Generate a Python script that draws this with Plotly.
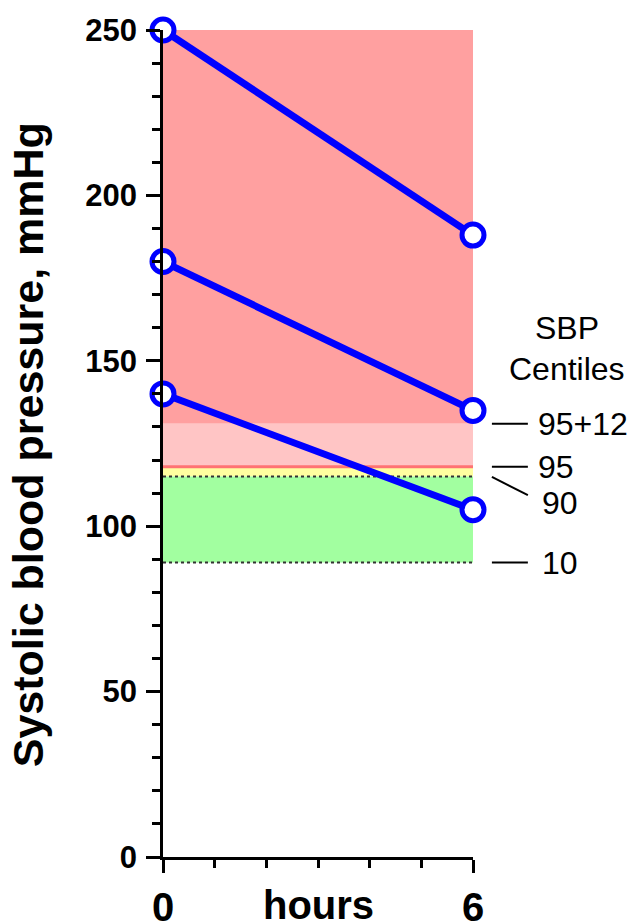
import plotly.graph_objects as go

# ---- data ----
hours = [0, 6]
patient_a = [250, 188]
patient_b = [180, 135]
patient_c = [140, 105]

band_top = 250
centile_95_plus_12 = 131
centile_95 = 118
centile_90 = 115
centile_10 = 89

centile_labels = ["95+12", "95", "90", "10"]
x_tick_vals = [0, 6]
y_tick_vals = [0, 50, 100, 150, 200, 250]

FONT = "Liberation Sans, Arial, sans-serif"
BLUE = "#0000ff"

fig = go.Figure()

for series in (patient_a, patient_b, patient_c):
    fig.add_trace(go.Scatter(
        x=hours, y=series, mode="lines+markers",
        line=dict(color=BLUE, width=7),
        marker=dict(size=22, color="white", line=dict(color=BLUE, width=5)),
        cliponaxis=False, showlegend=False, hoverinfo="skip",
    ))

x0, x1 = hours[0], hours[-1]
# coloured centile bands
bands = [
    (centile_95_plus_12, band_top, "rgb(255,160,160)"),
    (centile_95, centile_95_plus_12, "rgb(255,197,197)"),
    (centile_90, centile_95, "rgb(255,255,160)"),
    (centile_10, centile_90, "rgb(162,255,160)"),
]
for lo, hi, col in bands:
    fig.add_shape(type="rect", xref="x", yref="y", x0=x0, x1=x1, y0=lo, y1=hi,
                  fillcolor=col, line=dict(width=0), layer="below")
fig.add_shape(type="line", xref="x", yref="y", x0=x0, x1=x1, y0=centile_95, y1=centile_95,
              line=dict(color="rgb(255,115,115)", width=3), layer="below")
for v in (centile_90, centile_10):
    fig.add_shape(type="line", xref="x", yref="y", x0=x0, x1=x1, y0=v, y1=v,
                  line=dict(color="#333333", width=2, dash="dot"), layer="below")

# right-hand centile labels
lx0, lx1 = 1.061, 1.177
tx = 1.203
label_lines = [
    (centile_95_plus_12, centile_95_plus_12),
    (centile_95, centile_95),
    (centile_90 - 0.1, centile_90 - 5.6),
    (centile_10, centile_10),
]
label_y = [centile_95_plus_12, centile_95, centile_90 - 8, centile_10]
label_x = [tx, tx, tx + 0.012, tx + 0.012]
for (ya, yb), lab, ty, lxx in zip(label_lines, centile_labels, label_y, label_x):
    fig.add_shape(type="line", xref="paper", yref="y", x0=lx0, x1=lx1, y0=ya, y1=yb,
                  line=dict(color="black", width=2))
    fig.add_annotation(xref="paper", yref="y", x=lxx, y=ty, text=lab, showarrow=False,
                       xanchor="left", yanchor="middle",
                       font=dict(family=FONT, size=32, color="black"))

fig.add_annotation(xref="paper", yref="y", x=1.303, y=160, text="SBP", showarrow=False,
                   xanchor="center", yanchor="middle", font=dict(family=FONT, size=32, color="black"))
fig.add_annotation(xref="paper", yref="y", x=1.303, y=147.5, text="Centiles", showarrow=False,
                   xanchor="center", yanchor="middle", font=dict(family=FONT, size=32, color="black"))

# axis titles
fig.add_annotation(xref="paper", yref="paper", x=0.5, y=-0.058, text="hours", showarrow=False,
                   xanchor="center", yanchor="middle",
                   font=dict(family=FONT, size=40, color="black", weight="bold"))
fig.add_annotation(xref="paper", yref="paper", x=-0.435, y=0.498,
                   text="Systolic blood pressure, mmHg", showarrow=False, textangle=-90,
                   xanchor="center", yanchor="middle",
                   font=dict(family=FONT, size=43, color="black", weight="bold"))

fig.update_xaxes(
    range=[0, 6], tickvals=x_tick_vals, ticktext=[str(v) for v in x_tick_vals],
    ticks="outside", ticklen=13, tickwidth=2.5, tickcolor="black",
    showline=True, linecolor="black", linewidth=2.5, showgrid=False, zeroline=False,
    tickfont=dict(family=FONT, size=40, color="black", weight="bold"),
    minor=dict(dtick=1, ticks="outside", ticklen=8, tickwidth=2.5, tickcolor="black", showgrid=False),
    automargin=False,
)
fig.update_yaxes(
    range=[0, 250], tickvals=y_tick_vals,
    ticks="outside", ticklen=14, tickwidth=2.5, tickcolor="black",
    showline=True, linecolor="black", linewidth=2.5, showgrid=False, zeroline=False,
    tickfont=dict(family=FONT, size=31, color="black", weight="bold"),
    ticklabelstandoff=3,
    minor=dict(dtick=10, ticks="outside", ticklen=8, tickwidth=2.5, tickcolor="black", showgrid=False),
    automargin=False,
)

fig.update_layout(
    width=633, height=921,
    margin=dict(l=163, r=160, t=30, b=64),
    plot_bgcolor="white", paper_bgcolor="white",
    showlegend=False,
)

fig.write_html("out.html", config={"displayModeBar": False},
               post_script="document.body.style.margin='0px';")
